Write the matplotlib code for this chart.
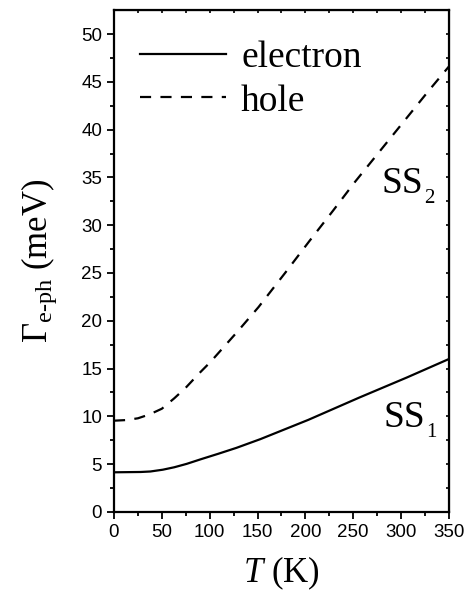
import matplotlib.pyplot as plt
import numpy as np

plt.rcParams['font.family'] = ['Liberation Sans', 'DejaVu Sans']
plt.rcParams['mathtext.fontset'] = 'custom'
plt.rcParams['mathtext.rm'] = 'Liberation Serif'
plt.rcParams['mathtext.it'] = 'Liberation Serif:italic'

# temperature (K)
T = [0, 12, 25, 37, 50, 62, 75, 87, 100, 125, 150, 175, 200, 225, 250, 275, 300, 325, 350]
# linewidth (meV)
electron = [4.15, 4.16, 4.17, 4.22, 4.4, 4.65, 5.0, 5.4, 5.8, 6.6, 7.5, 8.5, 9.5, 10.6,
            11.7, 12.75, 13.8, 14.9, 16.0]
hole = [9.55, 9.6, 9.8, 10.2, 10.8, 11.8, 13.0, 14.3, 15.6, 18.4, 21.3, 24.5, 27.8, 31.0,
        34.3, 37.4, 40.5, 43.6, 46.6]

fig = plt.figure(figsize=(4.74, 5.96), dpi=100)
ax = fig.add_axes([0.2405, 0.141, 0.7065, 0.842])

Tf = np.linspace(0, 350, 351)
ax.plot(Tf, np.interp(Tf, T, electron), 'k-', lw=1.6, label='electron')
ax.plot(Tf, np.interp(Tf, T, hole), 'k--', lw=1.6, dashes=(5, 4.2), label='hole')

ax.set_xlim(0, 350)
ax.set_ylim(0, 52.5)
ax.set_xticks(range(0, 351, 50))
ax.set_xticks(range(25, 351, 50), minor=True)
ax.set_yticks(range(0, 51, 5))
ax.set_yticks(np.arange(2.5, 52.5, 5), minor=True)
ax.tick_params(which='major', direction='out', length=5, width=1.3, labelsize=13.5)
ax.tick_params(which='minor', direction='out', length=3, width=1.3)
for s in ax.spines.values():
    s.set_linewidth(1.6)

# little inward ticks on top and right
top = ax.secondary_xaxis('top')
top.set_xticks(range(25, 351, 25))
top.tick_params(direction='in', length=2.5, width=1.2, labeltop=False)
right = ax.secondary_yaxis('right')
right.set_yticks(np.arange(2.5, 52.5, 2.5))
right.tick_params(direction='in', length=2.5, width=1.2, labelright=False)

ax.set_xlabel(r'$\mathit{T}$ (K)', fontsize=25, family='Liberation Serif', labelpad=10)
ax.set_ylabel(r'$\Gamma_{\mathrm{e\text{-}ph}}$ (meV)', fontsize=25, family='Liberation Serif', labelpad=16)

# state labels, with the subscript set a little lower as in the original
ax.text(0.80, 0.635, 'SS', transform=ax.transAxes, fontsize=27, family='Liberation Serif')
ax.text(0.925, 0.615, '2', transform=ax.transAxes, fontsize=15, family='Liberation Serif')
ax.text(0.805, 0.17, 'SS', transform=ax.transAxes, fontsize=27, family='Liberation Serif')
ax.text(0.932, 0.15, '1', transform=ax.transAxes, fontsize=15, family='Liberation Serif')

ax.legend(loc='upper left', frameon=False, prop={'family': 'Liberation Serif', 'size': 27},
          handlelength=2.3, handletextpad=0.4, labelspacing=0.25, borderaxespad=0.2,
          bbox_to_anchor=(0.01, 0.985))

fig.savefig('out.png', dpi=100)
